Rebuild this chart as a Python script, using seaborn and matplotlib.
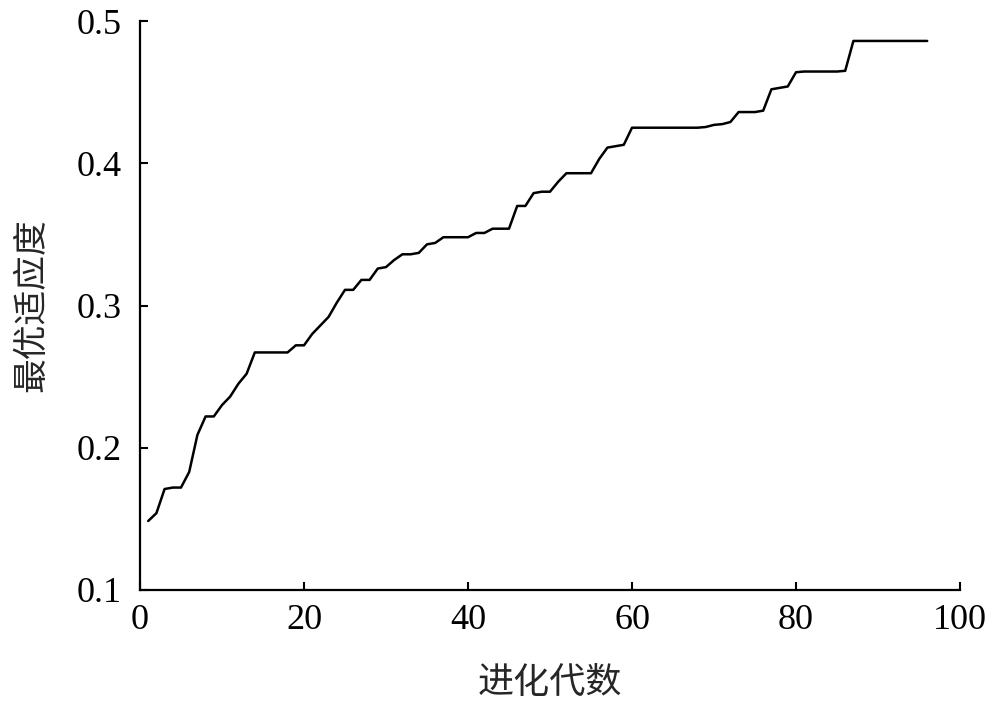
import pandas as pd
import seaborn as sns
import matplotlib.pyplot as plt

# 进化代数与每代最优适应度
generations = list(range(1, 97))
best_fitness = [
    0.1485, 0.154, 0.171, 0.172, 0.172, 0.183, 0.209, 0.222, 0.222, 0.230,
    0.236, 0.245, 0.252, 0.267, 0.267, 0.267, 0.267, 0.267, 0.272, 0.272,
    0.280, 0.286, 0.292, 0.302, 0.311, 0.311, 0.318, 0.318, 0.326, 0.327,
    0.332, 0.336, 0.336, 0.337, 0.343, 0.344, 0.348, 0.348, 0.348, 0.348,
    0.351, 0.351, 0.354, 0.354, 0.354, 0.370, 0.370, 0.379, 0.380, 0.380,
    0.387, 0.393, 0.393, 0.393, 0.393, 0.403, 0.411, 0.412, 0.413, 0.425,
    0.425, 0.425, 0.425, 0.425, 0.425, 0.425, 0.425, 0.425, 0.4255, 0.427,
    0.4275, 0.429, 0.436, 0.436, 0.436, 0.437, 0.452, 0.453, 0.454, 0.464,
    0.4645, 0.4645, 0.4645, 0.4645, 0.4645, 0.465, 0.486, 0.486, 0.486, 0.486,
    0.486, 0.486, 0.486, 0.486, 0.486, 0.486,
]
x_ticks = [0, 20, 40, 60, 80, 100]
y_ticks = [0.1, 0.2, 0.3, 0.4, 0.5]

data = pd.DataFrame({'gen': generations, 'fitness': best_fitness})

sns.set_style('ticks')
plt.rcParams['font.family'] = ['Liberation Serif', 'Noto Sans CJK SC']
plt.rcParams['xtick.direction'] = 'in'
plt.rcParams['ytick.direction'] = 'in'

fig = plt.figure(figsize=(10, 7.08), dpi=100)
ax = fig.add_axes([0.14, 0.1667, 0.82, 0.8036])

sns.lineplot(data=data, x='gen', y='fitness', color='black', linewidth=1.8, ax=ax)

ax.set_xlim(0, 100)
ax.set_ylim(0.1, 0.5)
ax.set_xticks(x_ticks)
ax.set_yticks(y_ticks)
ax.set_xticklabels([str(t) for t in x_ticks])
ax.set_yticklabels([f'{t:.1f}' for t in y_ticks])
ax.tick_params(direction='in', length=6, width=1.5, labelsize=26, colors='black')
ax.tick_params(axis='x', pad=10)
ax.tick_params(axis='y', pad=13)

sns.despine(ax=ax)
for side in ['left', 'bottom']:
    ax.spines[side].set_linewidth(1.6)
    ax.spines[side].set_color('black')

ax.set_xlabel('进化代数', fontsize=26, family=['Noto Sans CJK SC'], labelpad=20)
ax.set_ylabel('最优适应度', fontsize=25, family=['Noto Sans CJK SC'], labelpad=20)

fig.savefig('out.png', dpi=100)
